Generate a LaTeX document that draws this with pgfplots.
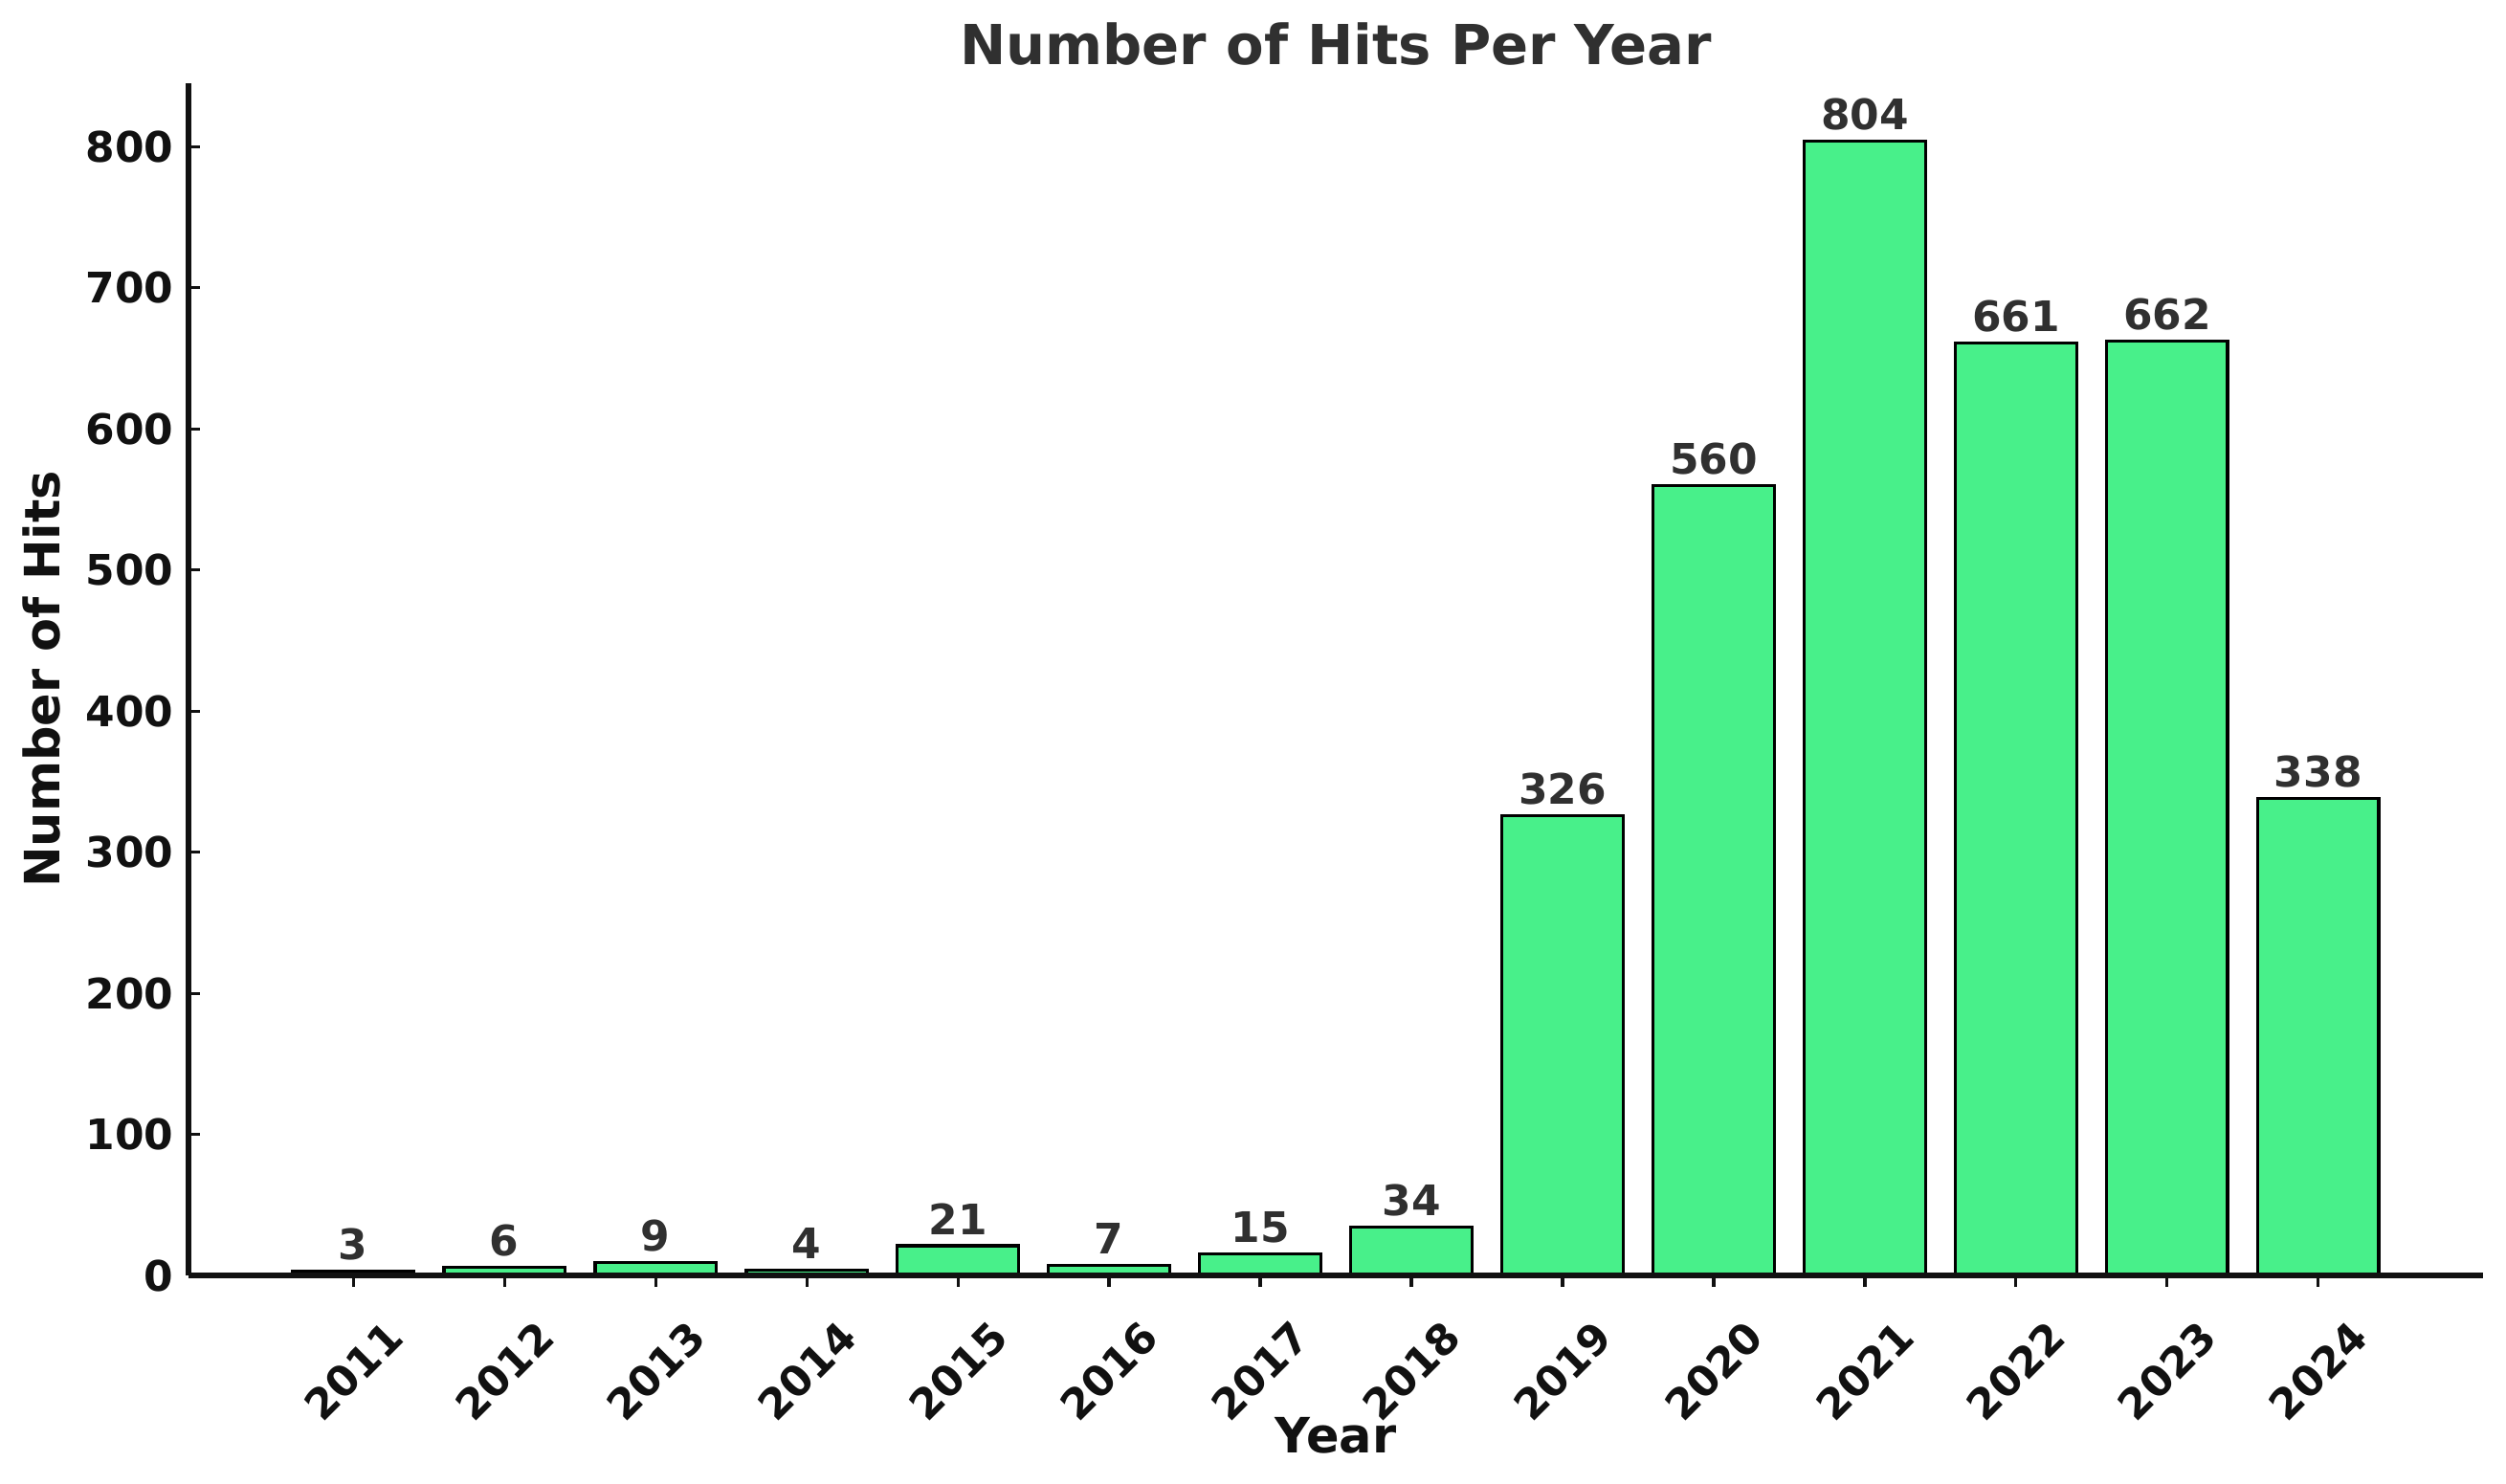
\documentclass[border=0pt]{standalone}
\usepackage{fontspec}
\setmainfont{DejaVu Sans}
\usepackage{pgfplots}
\pgfplotsset{compat=1.18}

\definecolor{bargreen}{RGB}{72,240,138}
\definecolor{labgray}{RGB}{48,48,48}
\definecolor{axblack}{RGB}{17,17,17}

\pgfplotstableread{
x year hits
0 2011 3
1 2012 6
2 2013 9
3 2014 4
4 2015 21
5 2016 7
6 2017 15
7 2018 34
8 2019 326
9 2020 560
10 2021 804
11 2022 661
12 2023 662
13 2024 338
}\hitstable

\begin{document}
\begin{tikzpicture}
\begin{axis}[
    scale only axis,
    width=23.98cm, height=12.46cm,
    xmin=-1.09, xmax=14.09,
    ymin=0, ymax=845,
    /pgf/number format/assume math mode=true,
    axis lines*=left,
    axis line style={line width=1.9pt, color=axblack},
    axis on top,
    clip=false,
    tick align=inside,
    major tick length=0.12cm,
    tick style={line width=0.9pt, color=axblack},
    xtick=data,
    xticklabels={2011,2012,2013,2014,2015,2016,2017,2018,2019,2020,2021,2022,2023,2024},
    ytick={0,100,...,800},
    xticklabel style={yshift=-0.88cm, rotate=45, anchor=center,
        font=\fontsize{12.5}{15}\selectfont\bfseries, color=axblack},
    yticklabel style={inner sep=0pt, xshift=-0.15cm, anchor=east,
        font=\fontsize{12.5}{15}\selectfont\bfseries, color=axblack},
    every axis title shift=0pt,
    title={Number of Hits Per Year},
    title style={at={(axis description cs:0.5,1.016)}, anchor=base,
        font=\fontsize{16.4}{19}\selectfont\bfseries, color=labgray},
    xlabel={Year},
    xlabel style={at={(axis description cs:0.5,-0.149)}, anchor=base,
        font=\fontsize{14.5}{17}\selectfont\bfseries, color=axblack},
    ylabel={Number of Hits},
    ylabel style={at={(axis description cs:-0.0559,0.5)}, anchor=base, rotate=0,
        font=\fontsize{14.5}{17}\selectfont\bfseries, color=axblack},
    ybar,
    bar width=0.8,
    nodes near coords,
    every node near coord/.append style={anchor=base, inner sep=0pt, yshift=0.12cm,
        font=\fontsize{12.5}{15}\selectfont\bfseries, color=labgray},
]
\addplot[fill=bargreen, draw=black, line width=0.9pt] table[x=x, y=hits] {\hitstable};
\end{axis}
\pgfresetboundingbox
\path ([xshift=-1.97cm,yshift=-2.17cm]current axis.south west) rectangle ([xshift=0.24cm,yshift=0.87cm]current axis.north east);
\end{tikzpicture}
\end{document}
